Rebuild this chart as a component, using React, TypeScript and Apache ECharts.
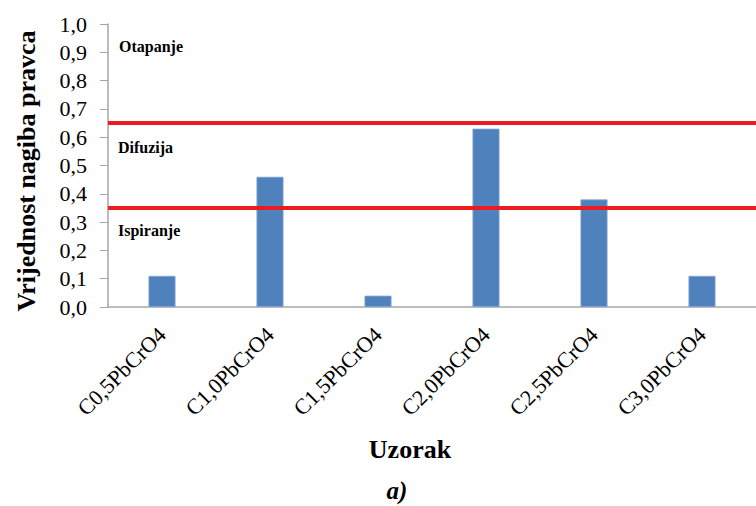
import React, { useEffect, useRef } from "react";
import * as echarts from "echarts";

const categories = ["C0,5PbCrO4", "C1,0PbCrO4", "C1,5PbCrO4", "C2,0PbCrO4", "C2,5PbCrO4", "C3,0PbCrO4"];
const values = [0.11, 0.46, 0.04, 0.63, 0.38, 0.11];
const thresholds = [0.65, 0.35];
const zoneLabels = ["Otapanje", "Difuzija", "Ispiranje"];
const yTitle = "Vrijednost nagiba pravca";
const xTitle = "Uzorak";
const panelLabel = "a)";

const FONT = "'Liberation Serif', 'Times New Roman', serif";

export default function App() {
  const ref = useRef<HTMLDivElement>(null);
  useEffect(() => {
    if (!ref.current) return;
    const chart = echarts.init(ref.current, null, { renderer: "svg" });
    chart.setOption({
      animation: false,
      backgroundColor: "#ffffff",
      grid: { left: 108, top: 24, width: 658, height: 283 },
      xAxis: {
        type: "category",
        data: categories,
        axisLine: { lineStyle: { color: "#A6A6A6", width: 1.5 } },
        axisTick: { show: false },
        axisLabel: { rotate: 45, fontFamily: FONT, fontSize: 22, color: "#000", margin: 24, interval: 0 },
      },
      yAxis: {
        type: "value",
        min: 0,
        max: 1,
        interval: 0.1,
        axisLine: { show: true, lineStyle: { color: "#A6A6A6", width: 1.5 } },
        axisTick: { show: true, length: 8, lineStyle: { color: "#A6A6A6" } },
        splitLine: { show: false },
        axisLabel: {
          fontFamily: FONT,
          fontSize: 22,
          color: "#000",
          margin: 21,
          formatter: (v: number) => v.toFixed(1).replace(".", ","),
        },
      },
      series: [
        {
          type: "bar",
          data: values,
          barWidth: 27,
          itemStyle: { color: "#4F81BD", borderColor: "#7FA3D3", borderWidth: 0.8 },
          markLine: {
            silent: true,
            symbol: "none",
            label: { show: false },
            lineStyle: { color: "#ED1C24", width: 4, type: "solid" },
            data: thresholds.map((t) => ({ yAxis: t })),
          },
        },
      ],
      graphic: [
        { type: "text", x: 119, y: 46, style: { text: zoneLabels[0], font: `bold 16px ${FONT}`, fill: "#000", textVerticalAlign: "middle" } },
        { type: "text", x: 118, y: 147, style: { text: zoneLabels[1], font: `bold 16px ${FONT}`, fill: "#000", textVerticalAlign: "middle" } },
        { type: "text", x: 118, y: 230, style: { text: zoneLabels[2], font: `bold 16px ${FONT}`, fill: "#000", textVerticalAlign: "middle" } },
        {
          type: "text",
          x: 26,
          y: 171,
          rotation: Math.PI / 2,
          style: { text: yTitle, font: `bold 26px ${FONT}`, fill: "#000", textAlign: "center", textVerticalAlign: "middle" },
        },
        { type: "text", x: 410, y: 449, style: { text: xTitle, font: `bold 26px ${FONT}`, fill: "#000", textAlign: "center", textVerticalAlign: "middle" } },
        { type: "text", x: 397, y: 490, style: { text: panelLabel, font: `italic bold 25px ${FONT}`, fill: "#000", textAlign: "center", textVerticalAlign: "middle" } },
      ],
    });
    return () => chart.dispose();
  }, []);
  return <div ref={ref} style={{ position: "absolute", left: 0, top: 0, width: 756, height: 506 }} />;
}
